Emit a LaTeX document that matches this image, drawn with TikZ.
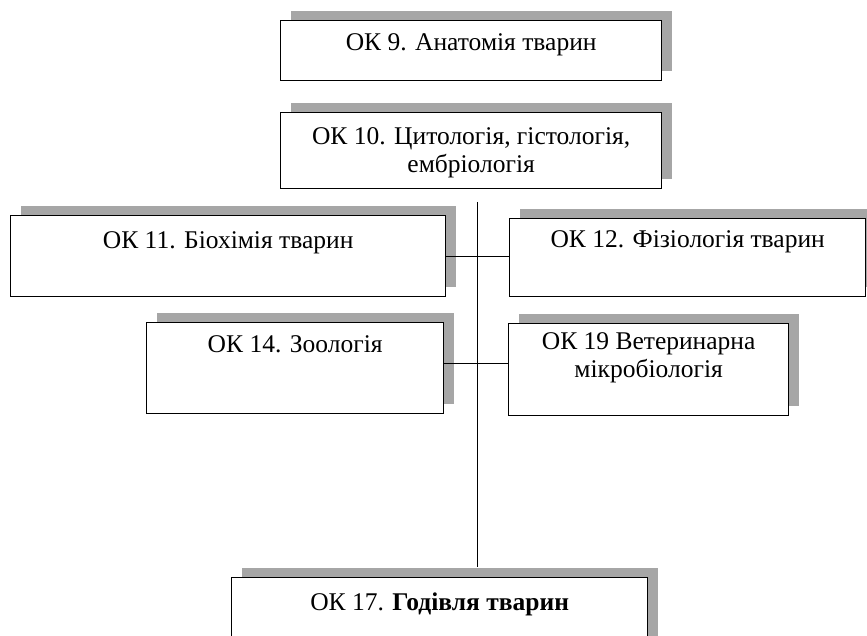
\documentclass[tikz,border=0pt]{standalone}
\usepackage{fontspec}
\setmainfont{Liberation Serif}
\usetikzlibrary{shadows}

\tikzset{
  box/.style={draw, line width=1.3pt, fill=white, anchor=north west,
    inner sep=0pt, text height=30pt,
    font=\fontsize{25.5}{28}\selectfont,
    general shadow={fill=black!35, shadow xshift=10pt, shadow yshift=10pt}},
  link/.style={line width=1pt}
}

\begin{document}
\begin{tikzpicture}[x=1pt,y=-1pt]
    \clip (0,0) rectangle (867,636);

    \node[box, minimum width=381pt, text depth=30pt] (ok9) at (280,20)
         {ОК 9. Анатомія тварин};
    \node[box, minimum width=381pt, text height=32pt, text depth=44pt] (ok10) at (280,112)
         {\begin{tabular}[t]{@{}c@{}}ОК 10. Цитологія, гістологія,\\ембріологія\end{tabular}};

    \node[box, minimum width=435pt, text height=33pt, text depth=48pt] (ok11) at (10,215)
         {ОК 11. Біохімія тварин};
    \node[box, minimum width=356pt, text height=29pt, text depth=49pt] (ok12) at (509,218)
         {ОК 12. Фізіологія тварин};

    \node[box, minimum width=297pt, text depth=61pt] (ok14) at (146,322)
         {ОК 14. Зоологія};
    \node[box, minimum width=280pt, text height=26pt, text depth=66pt] (ok19) at (508,323)
         {\begin{tabular}[t]{@{}c@{}}ОК 19 Ветеринарна\\мікробіологія\end{tabular}};

    \node[box, minimum width=416pt, text height=33pt, text depth=57pt] (ok17) at (231,577)
         {ОК 17. \textbf{Годівля тварин}};

    % vertical trunk
    \coordinate (trunk) at (477,202);
    \draw[link] (trunk) -- ([yshift=10pt]trunk |- ok17.north);

    % side links
    \draw[link] (ok11.east) -- (ok11.east -| ok12.west);
    \draw[link] ([yshift=5pt]ok14.east) -- ([yshift=5pt]ok14.east -| ok19.west);
\end{tikzpicture}
\end{document}
